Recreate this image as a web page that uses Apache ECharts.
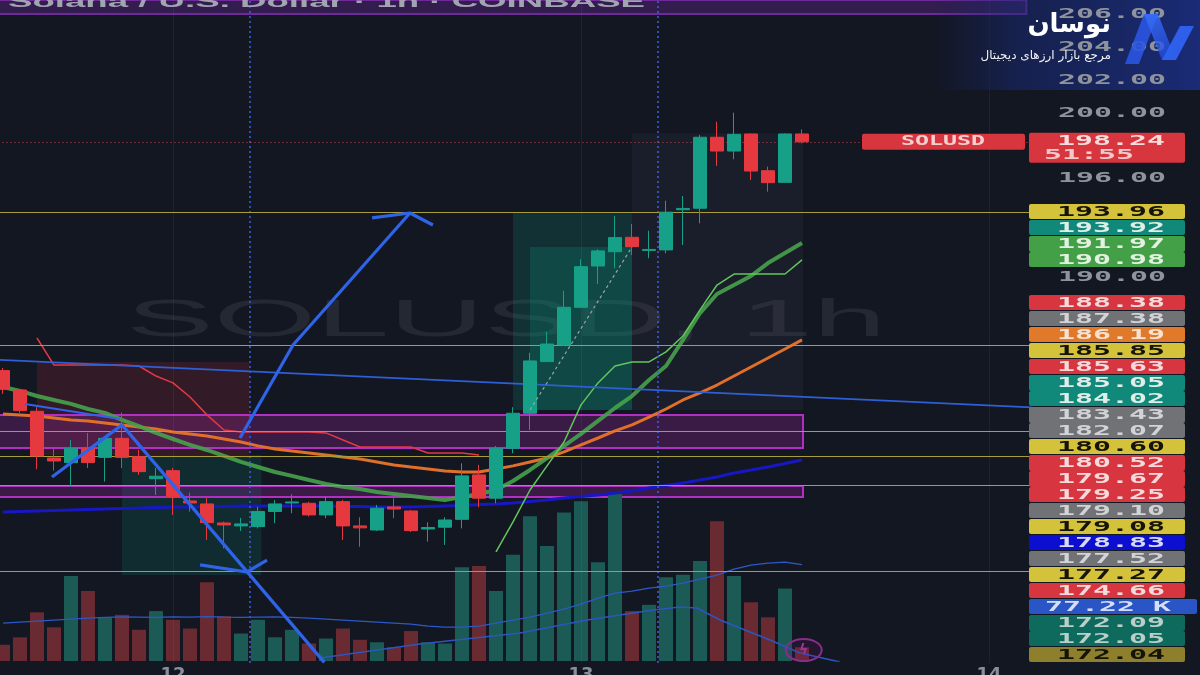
<!DOCTYPE html>
<html><head><meta charset="utf-8">
<script src="https://cdn.jsdelivr.net/npm/echarts@6/dist/echarts.min.js"></script>
<style>html,body{margin:0;padding:0;background:#131722;overflow:hidden}#c{width:1200px;height:675px}</style>
</head><body><div id="c"></div>
<script>
// ---------- DATA ----------
// candles: [open, close, low, high]
const ohlc = [
[184.29,183.15,182.87,184.45],[183.11,181.85,181.71,183.17],[181.81,179.09,178.27,182.06],[178.96,178.78,178.20,179.56],
[178.68,179.56,177.21,180.06],[179.57,178.68,178.35,180.49],[179.00,180.16,177.52,180.30],[180.16,179.00,178.34,181.73],
[179.04,178.13,177.93,179.45],[177.70,177.85,176.71,178.35],[178.19,176.60,175.49,178.35],[176.34,176.22,175.69,176.85],
[176.16,175.02,173.96,176.52],[175.00,174.88,173.45,175.08],[174.82,174.94,174.51,175.30],[174.78,175.70,174.67,175.99],
[175.70,176.16,174.98,176.40],[176.22,176.28,175.59,176.75],[176.20,175.49,175.39,176.30],[175.49,176.30,175.29,176.60],
[176.30,174.82,173.96,176.40],[174.82,174.70,173.55,175.35],[174.57,175.90,174.51,176.10],[175.98,175.85,175.29,176.50],
[175.73,174.53,174.45,175.80],[174.63,174.72,173.86,175.04],[174.74,175.18,173.66,175.35],[175.22,177.87,174.67,178.64],
[177.93,176.51,175.96,178.54],[176.51,179.55,176.20,179.70],[179.55,181.69,179.25,182.06],[181.69,184.88,180.67,185.38],
[184.84,185.91,184.80,186.66],[185.85,188.15,185.80,189.16],[188.15,190.63,188.11,191.08],[190.67,191.59,189.57,191.69],
[191.54,192.40,190.53,193.72],[192.42,191.85,191.34,193.23],[191.62,191.68,191.14,192.82],[191.65,193.95,191.45,194.65],
[194.10,194.18,191.95,194.94],[194.19,198.52,193.27,198.66],[198.52,197.68,196.77,199.47],[197.68,198.70,197.18,200.02],
[198.72,196.46,195.91,198.75],[196.48,195.75,195.20,196.73],[195.77,198.72,195.75,198.76],[198.72,198.24,198.15,199.00]
];
// volume (K)
const volume = [13,19,39,27,68,56,35,37,25,40,33,26,63,36,22,33,19,25,14,18,26,17,15,11,24,15,14,75,76,56,85,116,92,119,128,79,134,40,45,67,69,80,112,68,47,35,58,11];
const volumeMA = [30.4,31.2,32.0,32.8,33.6,34.4,35.0,35.4,35.2,35.0,35.4,35.2,35.6,35.2,35.0,35.2,35.4,35.0,34.4,33.6,32.8,32.0,31.2,30.4,29.6,28.0,27.2,27.2,28.0,30.4,32.8,35.2,38.4,41.6,45.6,50.4,54.4,56.0,58.4,60.0,62.4,65.6,68.8,73.6,76.8,78.4,79.2,77.2];
const emaGreen = [183.29,183.05,182.74,182.50,182.26,181.95,181.71,181.28,180.91,180.49,180.12,179.76,179.45,179.09,178.72,178.41,178.11,177.87,177.62,177.38,177.20,177.07,176.89,176.77,176.65,176.52,176.40,176.59,176.77,177.01,177.56,178.23,178.96,179.70,180.43,181.22,182.01,182.74,183.72,184.57,186.16,187.80,188.96,189.51,190.06,190.85,191.46,192.07];
const emaOrange = [181.65,181.59,181.52,181.40,181.28,181.22,181.10,180.98,180.85,180.73,180.55,180.43,180.30,180.12,179.94,179.70,179.51,179.39,179.27,179.15,179.02,178.90,178.72,178.54,178.41,178.29,178.17,178.11,178.11,178.29,178.48,178.72,178.96,179.33,179.76,180.18,180.61,180.98,181.46,181.95,182.50,182.93,183.41,183.96,184.51,185.06,185.61,186.16];
const stepGreen = [null,null,null,null,null,null,null,null,null,null,null,null,null,null,null,null,null,null,null,null,null,null,null,null,null,null,null,null,null,
 173.23,175.06,177.01,178.48,179.94,182.20,183.54,184.57,184.82,184.82,185.43,186.40,187.99,189.51,190.18,190.18,190.18,190.18,191.04];
const stepRed = [null,null,186.28,184.63,184.63,184.63,184.63,184.63,184.57,183.96,183.54,182.68,181.59,180.67,180.55,180.55,180.55,180.55,180.55,180.49,180.06,179.63,179.63,179.63,179.63,179.27,179.27,179.27,179.15];
const maBlue = [175.67,175.70,175.73,175.76,175.79,175.82,175.85,175.88,175.91,175.95,175.98,175.98,176.01,176.01,176.04,176.04,176.04,176.04,176.04,176.04,176.01,176.01,175.98,175.98,175.98,176.01,176.04,176.07,176.13,176.16,176.22,176.31,176.40,176.52,176.62,176.71,176.83,176.95,177.13,177.29,177.44,177.62,177.80,178.05,178.23,178.41,178.63,178.84];
const lastPrice = 198.24;
const countdown = '51:55';
const levels = [193.96,185.85,180.60,179.08,177.27,172.04];
const priceTicks = [206,204,202,200,196,190];
const dayTickIndex = [10,34,58];
const dayTickText = ['12','13','14'];
const sessionBreaks = [14.5,38.5];
// drawings in (bar index, price)
const trendDesc = [[-0.5,184.96],[60.5,182.05]];
const zigUp = [[2.88,177.80],[7.0,180.98]];
const zigDown = [[7.0,180.98],[18.9,166.5]];
const downHead = [[11.59,172.44],[14.35,172.01],[15.53,172.74]];
const upArrow = [[13.94,180.18],[17.06,185.85],[23.94,193.90]];
const upHead = [[21.71,193.60],[23.94,193.90],[25.29,193.17]];
const thinBlue = [[1.29,182.26],[6.88,181.34]];
const entryPath = [[31,181.89],[37,191.83]];
const volPath = [[18.65,2.4],[24.53,13.6],[30.41,22.4],[34.35,32.8],[38.24,40.8],[39.82,43.2],[40.82,42.4],[42.18,32.8],[45.12,16.8],[46.88,6.4],[49.24,-0.8]];
// zones [x0, y0, x1, y1]
const topBand = [-1,206.04,60.2,212];
const supplyBoxes = [[-1,179.57,47.06,181.59],[-1,176.59,47.06,177.26]];
const shortStop = [2,179.15,14.5,184.82];
const shortTarget = [7,171.83,15.2,179.15];
const longTarget = [30,181.89,37,193.96];
const longFilled = [31,181.89,37,191.83];
const dateRange = [37,181.89,47.06,198.76];
// price tags on the scale
const tagsUpper = ['193.96','193.92','191.97','190.98'];
const tagKindsUpper = ['level','teal','green','green'];
const tagsLower = ['188.38','187.38','186.19','185.85','185.63','185.05','184.02','183.43','182.07','180.60','180.52','179.67','179.25','179.10','179.08','178.83','177.52','177.27','174.66','77.22 K','172.09','172.05','172.04'];
const tagKindsLower = ['red','gray','orange','level','red','teal','teal','gray','gray','level','red','red','red','gray','level','navy','gray','level','red','vol','teal2','teal2','olive'];
const title = 'Solana / U.S. Dollar · 1h · COINBASE';
const watermark = 'SOLUSD, 1h';
const brandName = 'نوسان';
const brandSub = 'مرجع بازار ارزهای دیجیتال';

// ---------- STYLE ----------
const BG = '#131722', UP = '#16a088', DN = '#e5393f';
const tagStyle = {
  level:{bg:'#d3c23a',fg:'#15130a'}, teal:{bg:'#11897a',fg:'#dfeee9'}, green:{bg:'#44a047',fg:'#e3f1e3'},
  red:{bg:'#d7353f',fg:'#f6d9da'}, gray:{bg:'#707276',fg:'#d2d3d6'}, orange:{bg:'#e07a2a',fg:'#f8e3d2'},
  navy:{bg:'#0c0fcf',fg:'#d7d9f6'}, vol:{bg:'#2a55c6',fg:'#d6def6'}, teal2:{bg:'#0f6a5e',fg:'#b9cfca'},
  olive:{bg:'#8d7f2b',fg:'#14130a'}
};
const NSLOT = 61;
const cats = Array.from({length:NSLOT},(_,i)=>String(i));

const areaItem = (z, style) => [{coord:[z[0],z[1]], itemStyle:style},{coord:[z[2],z[3]]}];

const option = {
  backgroundColor: BG,
  animation: false,
  grid: [
    {left:-5.5, width:1037, top:0, height:663, outerBoundsMode:'none', containLabel:false},
    {left:-5.5, width:1037, top:430, height:231, outerBoundsMode:'none', containLabel:false}
  ],
  xAxis: [
    {type:'category', gridIndex:0, data:cats, boundaryGap:true, show:false},
    {type:'value', gridIndex:0, min:-0.5, max:NSLOT-0.5, show:false},
    {type:'category', gridIndex:1, data:cats, boundaryGap:true,
      axisLine:{show:false}, axisTick:{show:false}, splitLine:{show:false},
      axisLabel:{interval:0, margin:5, color:'#8b8f99', fontSize:18, fontWeight:'bold', fontFamily:'DejaVu Sans',
        formatter:(v,i)=>{const k=dayTickIndex.indexOf(i); return k>=0?dayTickText[k]:'';}}},
    {type:'value', gridIndex:1, min:-0.5, max:NSLOT-0.5, show:false}
  ],
  yAxis: [
    {type:'value', gridIndex:0, min:166.46, max:206.89, show:false, splitLine:{show:false}},
    {type:'value', gridIndex:1, min:0, max:185, show:false, splitLine:{show:false}}
  ],
  series: [
    {type:'bar', name:'vol', xAxisIndex:2, yAxisIndex:1, barWidth:14, z:1,
      data: volume.map((v,i)=>({value:v, itemStyle:{color: ohlc[i][1]>=ohlc[i][0] ? '#1b5a55' : '#6a2a31'}}))},
    {type:'line', name:'volMA', xAxisIndex:2, yAxisIndex:1, data:volumeMA, symbol:'none', z:2,
      lineStyle:{color:'#2d58c8', width:1.3}},
    {type:'line', name:'volPath', xAxisIndex:3, yAxisIndex:1, data:volPath, symbol:'none', z:2,
      lineStyle:{color:'#2d55c0', width:1.6}},
    {type:'line', name:'zones', xAxisIndex:1, yAxisIndex:0, data:[[-5,100]], symbol:'none', z:1,
      markArea:{silent:true, z:1, data:[
        areaItem(topBand,{color:'rgba(110,40,160,0.35)', borderColor:'#6f2a9a', borderWidth:2}),
        areaItem(shortStop,{color:'rgba(242,54,69,0.14)'}),
        areaItem(shortTarget,{color:'rgba(8,153,129,0.16)'}),
        areaItem(longTarget,{color:'rgba(8,153,129,0.20)'}),
        areaItem(longFilled,{color:'rgba(8,153,129,0.22)'}),
        areaItem(dateRange,{color:'rgba(150,160,190,0.05)'}),
        areaItem(supplyBoxes[0],{color:'rgba(165,40,175,0.26)', borderColor:'#b12fc2', borderWidth:2}),
        areaItem(supplyBoxes[1],{color:'rgba(165,40,175,0.26)', borderColor:'#b12fc2', borderWidth:2})
      ]},
      markLine:{silent:true, symbol:'none', label:{show:false}, data:[
        ...dayTickIndex.map(v=>({xAxis:v, lineStyle:{color:'rgba(255,255,255,0.05)', width:1, type:'solid'}})),
        ...sessionBreaks.map(v=>({xAxis:v, lineStyle:{color:'#3b5bd8', width:1.6, type:[2,3]}}))
      ]}},
    {type:'line', name:'maBlue', xAxisIndex:0, yAxisIndex:0, data:maBlue, symbol:'none', z:3,
      lineStyle:{color:'#1717c4', width:3}},
    {type:'line', name:'emaOrange', xAxisIndex:0, yAxisIndex:0, data:emaOrange, symbol:'none', z:3,
      lineStyle:{color:'#df6f2a', width:3}},
    {type:'line', name:'emaGreen', xAxisIndex:0, yAxisIndex:0, data:emaGreen, symbol:'none', z:3,
      lineStyle:{color:'#47a24b', width:4, opacity:0.9}},
    {type:'line', name:'stepGreen', xAxisIndex:0, yAxisIndex:0, data:stepGreen, symbol:'none', z:3,
      lineStyle:{color:'#62c65c', width:1.5}},
    {type:'line', name:'stepRed', xAxisIndex:0, yAxisIndex:0, data:stepRed, symbol:'none', z:3,
      lineStyle:{color:'#e33846', width:1.5}},
    {type:'line', name:'trendDesc', xAxisIndex:1, yAxisIndex:0, data:trendDesc, symbol:'none', z:3,
      lineStyle:{color:'#2d5fd6', width:1.6}},
    {type:'candlestick', name:'SOLUSD', xAxisIndex:0, yAxisIndex:0, barWidth:13, z:5,
      data: ohlc,
      itemStyle:{color:UP, color0:DN, borderColor:UP, borderColor0:DN, borderWidth:1},
      markLine:{silent:true, symbol:'none', label:{show:false}, data:[
        ...levels.map(v=>({yAxis:v, lineStyle:{color:'#a99c3c', width:1.2, type:'solid'}})),
        {yAxis:lastPrice, lineStyle:{color:'#c9404c', width:1, type:[1,3]}}
      ]}},
    ...[zigUp, zigDown, downHead, upArrow, upHead].map(d=>({type:'line', xAxisIndex:1, yAxisIndex:0, data:d, symbol:'none', z:6,
      lineStyle:{color:'#2f63e8', width:3.2}})),
    {type:'line', xAxisIndex:1, yAxisIndex:0, data:thinBlue, symbol:'none', z:6, lineStyle:{color:'#2f63e8', width:2}},
    {type:'line', xAxisIndex:1, yAxisIndex:0, data:entryPath, symbol:'none', z:6, lineStyle:{color:'#9aa3a8', width:1.2, type:[3,3]}}
  ]
};

const chart = echarts.init(document.getElementById('c'));
chart.setOption(option);

// ---------- overlays (text, tags, brand) ----------
const ctx = document.createElement('canvas').getContext('2d');
const tw = (t,f)=>{ctx.font=f; return ctx.measureText(t).width;};
const TAGFONT = 'bold 14px "DejaVu Sans Mono"';
const TAGSCALE = 108 / tw('193.96', TAGFONT);
const wideText = (text, x, y, fill, font, sx, align, z) => ({
  type:'text', x, y, scaleX:sx, z:z||100, silent:true,
  style:{text, fill, font, align:align||'center', verticalAlign:'middle'}
});
const g = [];
const WMFONT = '52px "Liberation Sans"';
g.push(Object.assign(wideText(watermark, 506, 322, 'rgba(255,255,255,0.075)', WMFONT, 760/tw(watermark,WMFONT)), {z:0}));
const TFONT = 'bold 17px "Liberation Sans"';
g.push(wideText(title, 8, 2, '#a3a4b3', TFONT, 637/tw(title,TFONT), 'left', 50));
priceTicks.forEach(v=>{
  const y = chart.convertToPixel({yAxisIndex:0}, v);
  g.push(wideText(v.toFixed(2), 1112, y, '#8f939c', TAGFONT, TAGSCALE));
});
function pushTags(list, kinds, y0) {
  list.forEach((t,i)=>{
    const st = tagStyle[kinds[i]];
    const yc = y0 + 16*i;
    const merge = kinds[i+1]===kinds[i];
    const wide = kinds[i]==='vol';
    g.push({type:'rect', z:99, silent:true, shape:{x:1029, y:yc-8, width: wide?168:156, height: merge?16:15, r:2}, style:{fill:st.bg}});
    g.push(wideText(t, wide?1108:1111, yc, st.fg, TAGFONT, TAGSCALE));
  });
}
pushTags(tagsUpper, tagKindsUpper, 212);
pushTags(tagsLower, tagKindsLower, 303);
const yLast = chart.convertToPixel({yAxisIndex:0}, lastPrice);
g.push({type:'rect', z:99, silent:true, shape:{x:1029, y:yLast-9, width:156, height:30, r:2}, style:{fill:'#d8363f'}});
g.push(wideText(lastPrice.toFixed(2), 1111, yLast, '#f7dcdc', TAGFONT, TAGSCALE));
g.push(wideText(countdown, 1089, yLast+14, '#f0c9ca', TAGFONT, TAGSCALE));
g.push({type:'rect', z:99, silent:true, shape:{x:862, y:yLast-8, width:163, height:16, r:2}, style:{fill:'#d8363f'}});
g.push(wideText('SOLUSD', 943, yLast, '#f4cfd1', TAGFONT, TAGSCALE*0.78));
g.push({type:'rect', z:90, silent:true, shape:{x:930, y:0, width:270, height:90},
  style:{fill:new echarts.graphic.LinearGradient(0,0,1,0,[{offset:0,color:'rgba(22,36,100,0)'},{offset:0.3,color:'rgba(24,42,118,0.5)'},{offset:1,color:'rgba(28,48,140,0.8)'}])}});
g.push({type:'text', z:101, x:1111, y:25, silent:true, style:{text:brandName, fill:'#ffffff', font:'bold 26px "DejaVu Sans"', align:'right', verticalAlign:'middle'}});
g.push({type:'text', z:101, x:1111, y:56, silent:true, style:{text:brandSub, fill:'#f2f2f5', font:'12px "DejaVu Sans"', align:'right', verticalAlign:'middle'}});
const logoFill = new echarts.graphic.LinearGradient(0,0,1,1,[{offset:0,color:'#3a74ff'},{offset:1,color:'#1f45d8'}]);
g.push({type:'polygon', z:101, silent:true, shape:{points:[[1125,64],[1139,64],[1158,14],[1144,14]]}, style:{fill:'#2a55e0', opacity:0.9}});
g.push({type:'polygon', z:101, silent:true, shape:{points:[[1144,14],[1158,14],[1176,60],[1162,60]]}, style:{fill:logoFill, opacity:0.8}});
g.push({type:'polygon', z:101, silent:true, shape:{points:[[1162,60],[1176,60],[1194,26],[1180,26]]}, style:{fill:'#2f62f0', opacity:0.95}});
const mk = chart.convertToPixel({xAxisIndex:3, yAxisIndex:1}, [47.1, 8.8]);
g.push({type:'ellipse', z:20, silent:true, shape:{cx:mk[0], cy:mk[1], rx:18, ry:11}, style:{fill:'rgba(120,30,120,0.15)', stroke:'#8a2c8c', lineWidth:2}});
g.push({type:'text', z:21, x:mk[0], y:mk[1], silent:true, style:{text:'ϟ', fill:'#9a339c', font:'bold 14px "DejaVu Sans"', align:'center', verticalAlign:'middle'}});
chart.setOption({graphic:g});
</script></body></html>
